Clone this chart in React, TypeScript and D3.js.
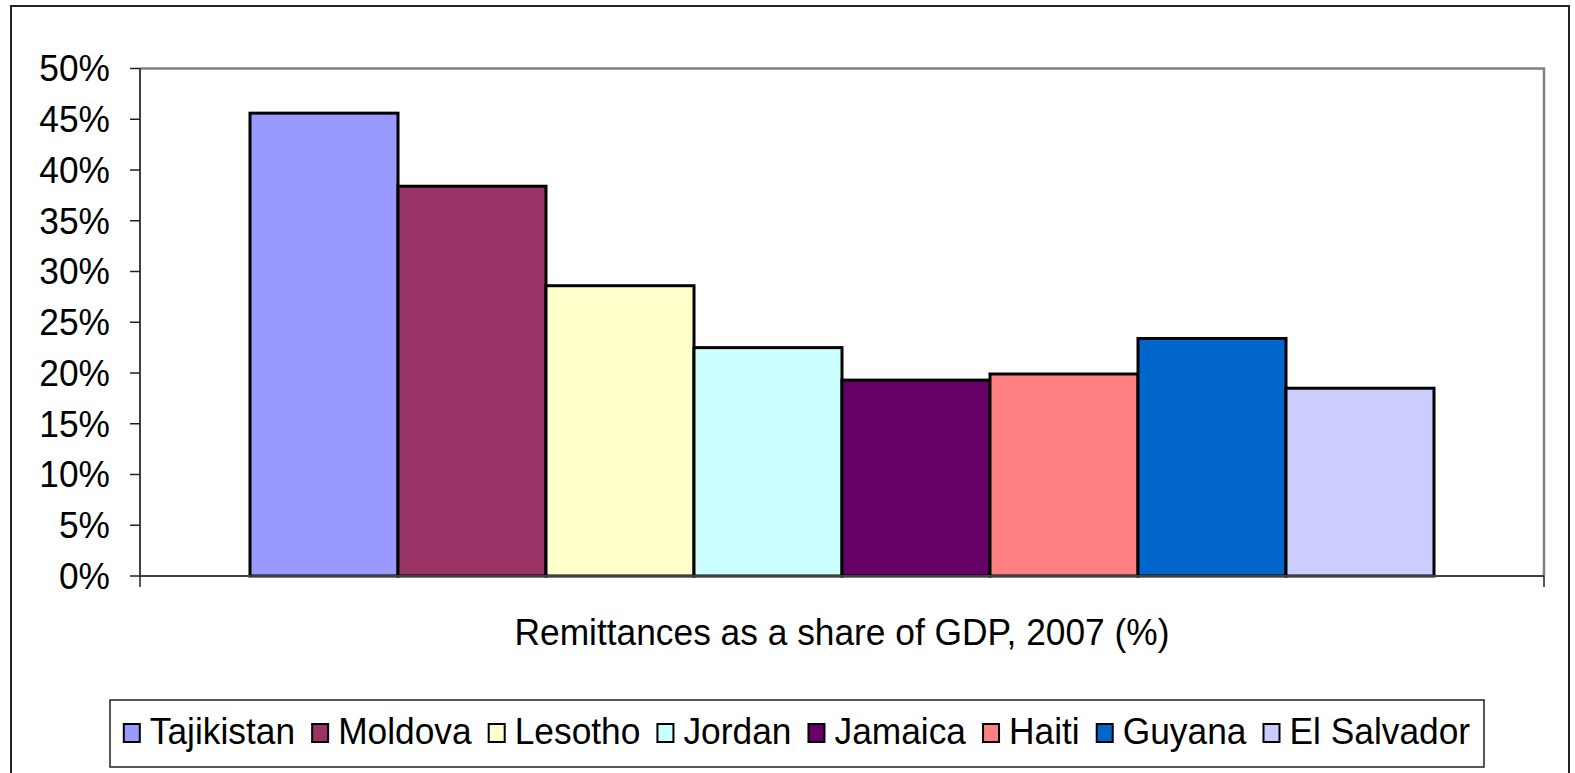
import React from "react";
import * as d3 from "d3";

const countries = ["Tajikistan", "Moldova", "Lesotho", "Jordan", "Jamaica", "Haiti", "Guyana", "El Salvador"];
const values = [45.6, 38.4, 28.6, 22.5, 19.3, 19.9, 23.4, 18.5];
const colors = ["#9999FF", "#993366", "#FFFFCC", "#CCFFFF", "#660066", "#FF8080", "#0066CC", "#CCCCFF"];
const yTicks = [0, 5, 10, 15, 20, 25, 30, 35, 40, 45, 50];
const axisTitle = "Remittances as a share of GDP, 2007 (%)";

const W = 1575;
const H = 773;
const FONT = "'Liberation Sans', Arial, sans-serif";
const FS = 37;
const SX = 0.955;

function measure(text: string, size: number): number {
  if (typeof document === "undefined") return text.length * size * 0.5;
  const c = document.createElement("canvas");
  const ctx = c.getContext("2d");
  if (!ctx) return text.length * size * 0.5;
  ctx.font = `${size}px ${FONT}`;
  return ctx.measureText(text).width;
}

function T(props: { x: number; y: number; anchor?: string; dy?: string; children: React.ReactNode }) {
  return (
    <text
      transform={`translate(${props.x},${props.y}) scale(${SX},1)`}
      dy={props.dy}
      textAnchor={props.anchor || "start"}
      fontSize={FS}
      fill="#000"
    >
      {props.children}
    </text>
  );
}

export default function App() {
  const plot = { left: 140, right: 1544, top: 68.5, bottom: 576 };
  const y = d3.scaleLinear().domain([0, 50]).range([plot.bottom, plot.top]);
  const barsLeft = 250;
  const barsRight = 1434;
  const x = d3.scaleBand<string>().domain(countries).range([barsLeft, barsRight]).padding(0);

  // legend layout
  const legendLeft = 110, legendRight = 1484, legendTop = 700, legendBottom = 767;
  const mkW = 16, mkH = 18, gapMT = 10, gapItem = 17;
  const widths = countries.map((c) => measure(c, FS) * SX);
  const total = widths.reduce((a, w) => a + mkW + gapMT + w, 0) + gapItem * (countries.length - 1);
  let cx = (legendLeft + legendRight) / 2 - total / 2;
  const legendItems = countries.map((c, i) => {
    const item = { name: c, color: colors[i], x: cx };
    cx += mkW + gapMT + widths[i] + gapItem;
    return item;
  });
  const legendMid = 733;

  return (
    <svg
      width={W}
      height={H}
      style={{ position: "absolute", left: 0, top: 0, background: "#fff" }}
      fontFamily={FONT}
    >
      <rect x={0} y={0} width={W} height={H} fill="#fff" />
      {/* outer frame */}
      <rect x={11} y={6} width={1558} height={780} fill="none" stroke="#222" strokeWidth={2} />

      {/* plot area border (top, right) */}
      <path
        d={`M${plot.left},${plot.top}H${plot.right}V${plot.bottom}`}
        fill="none"
        stroke="#808080"
        strokeWidth={2.5}
      />

      {/* bars */}
      {countries.map((c, i) => (
        <rect
          key={c}
          x={x(c)}
          y={y(values[i])}
          width={x.bandwidth()}
          height={y(0) - y(values[i])}
          fill={colors[i]}
          stroke="#000"
          strokeWidth={3}
        />
      ))}

      {/* y axis */}
      <line x1={plot.left} x2={plot.left} y1={plot.top} y2={plot.bottom} stroke="#404040" strokeWidth={2} />
      {yTicks.map((t) => (
        <g key={t}>
          <line x1={plot.left - 10} x2={plot.left} y1={y(t)} y2={y(t)} stroke="#202020" strokeWidth={1.5} />
          <T x={110} y={y(t)} dy="0.35em" anchor="end">{`${t}%`}</T>
        </g>
      ))}

      {/* x axis */}
      <line x1={plot.left} x2={plot.right} y1={plot.bottom} y2={plot.bottom} stroke="#404040" strokeWidth={2} />
      <line x1={plot.left} x2={plot.left} y1={plot.bottom} y2={plot.bottom + 11} stroke="#202020" strokeWidth={1.5} />
      <line x1={plot.right} x2={plot.right} y1={plot.bottom} y2={plot.bottom + 11} stroke="#202020" strokeWidth={1.5} />
      <T x={(plot.left + plot.right) / 2} y={645} anchor="middle">{axisTitle}</T>

      {/* legend */}
      <rect
        x={legendLeft}
        y={legendTop}
        width={legendRight - legendLeft}
        height={legendBottom - legendTop}
        fill="#fff"
        stroke="#222"
        strokeWidth={1.5}
      />
      {legendItems.map((it) => (
        <g key={it.name}>
          <rect
            x={it.x}
            y={legendMid - mkH / 2}
            width={mkW}
            height={mkH}
            fill={it.color}
            stroke="#000"
            strokeWidth={2}
          />
          <T x={it.x + mkW + gapMT} y={744}>{it.name}</T>
        </g>
      ))}
    </svg>
  );
}
